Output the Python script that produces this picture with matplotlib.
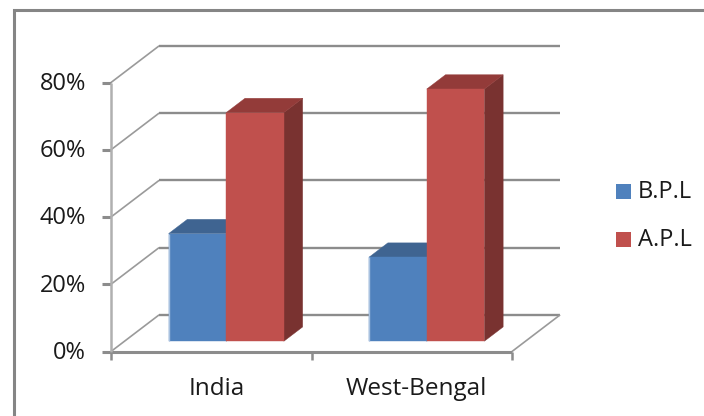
import matplotlib
matplotlib.use('Agg')
import matplotlib.pyplot as plt
from matplotlib.lines import Line2D
from matplotlib.patches import Polygon, Rectangle

categories = ['India', 'West-Bengal']
bpl = [32, 25]
apl = [68, 75]
y_ticks = [0, 20, 40, 60, 80]
series_names = ['B.P.L', 'A.P.L']

W, H = 704, 416
plt.rcParams['font.family'] = 'Open Sans'

fig = plt.figure(figsize=(W / 100, H / 100), dpi=100)
# front plane of the 3D box: x 112-512, y 351-82 in pixels
ax = fig.add_axes([111 / W, 1 - 351.5 / H, 401 / W, 269 / H])
ax.set_xlim(0, 2)
ax.set_ylim(0, 80)
ax.axis('off')

# depth 1 is the back wall
DX = 0.24
DY = 10.9
GRID = '#8c8c8c'


def project(x, y, depth=0.0):
    return x + depth * DX, y + depth * DY


def line(pts, color=GRID, lw=1.4, z=1):
    ax.plot([p[0] for p in pts], [p[1] for p in pts], color=color, lw=lw,
            zorder=z, clip_on=False, solid_capstyle='butt')


def box(x0, x1, top, color, top_color, side_color, d0=0.28, d1=0.67):
    front = [project(x0, 0, d0), project(x1, 0, d0), project(x1, top, d0), project(x0, top, d0)]
    cap = [project(x0, top, d0), project(x1, top, d0), project(x1, top, d1), project(x0, top, d1)]
    side = [project(x1, 0, d0), project(x1, 0, d1), project(x1, top, d1), project(x1, top, d0)]
    for pts, c in ((side, side_color), (cap, top_color), (front, color)):
        ax.add_patch(Polygon(pts, closed=True, facecolor=c, edgecolor=c, lw=0.3, zorder=3, clip_on=False))


# gridlines along the back wall and the side wall
for t in y_ticks:
    line([project(0, t, 0), project(0, t, 1)], color='#9a9a9a', lw=1.2)
    line([project(0, t, 1), project(2, t, 1)], color=GRID, lw=1.7)
    line([project(-0.045, t, 0), project(0, t, 0)], lw=2.2, z=2)

# floor edges and axes
line([project(2, 0, 0), project(2, 0, 1)], color='#9a9a9a', lw=1.2)
line([project(0, 0, 0), project(2, 0, 0)], lw=2.2, z=2)
line([project(0, 0, 0), project(0, 80, 0)], color='#b0b0b0', lw=1.8, z=2)
for i in range(3):
    line([(i, 0), (i, -8 * 80 / 269)], lw=1.8, z=2)

# bars, first series in front of the second one at the join
bar_w = 0.2875
for i in range(len(categories)):
    left = i + 0.22
    box(left, left + bar_w, bpl[i], '#4f81bd', '#3f6491', '#385d8a')
    box(left + bar_w, left + 2 * bar_w, apl[i], '#c0504d', '#933b39', '#793230')
    # pale highlight on the edge of the blue bar
    line([project(left, 0, 0.28), project(left, bpl[i], 0.28)], color='#a9c2e0', lw=1, z=4)

for t in y_ticks:
    ax.text(-0.125, t - 0.4, f'{t}%', ha='right', va='center', fontsize=17, color='#1a1a1a', clip_on=False)
for i, name in enumerate(categories):
    ax.text(i + 0.525, -11.2, name, ha='center', va='center', fontsize=17.5, color='#1a1a1a', clip_on=False)

# legend drawn in figure pixels
legend_colors = ['#4f81bd', '#c0504d']
for k, name in enumerate(series_names):
    y = 192 + k * 48
    fig.add_artist(Rectangle((616 / W, 1 - (y + 7) / H), 15 / W, 15 / H, facecolor=legend_colors[k],
                             edgecolor='none', transform=fig.transFigure))
    fig.text(638 / W, 1 - y / H, name, ha='left', va='center', fontsize=17, color='#1a1a1a')

# chart frame: only the left and top edges are inside the picture
fig.add_artist(Line2D([14 / W, 14 / W, 1], [0, 1 - 9.5 / H, 1 - 9.5 / H], color='#858585', lw=2.2,
                      transform=fig.transFigure, solid_joinstyle='miter'))

fig.savefig('out.png', dpi=100)
